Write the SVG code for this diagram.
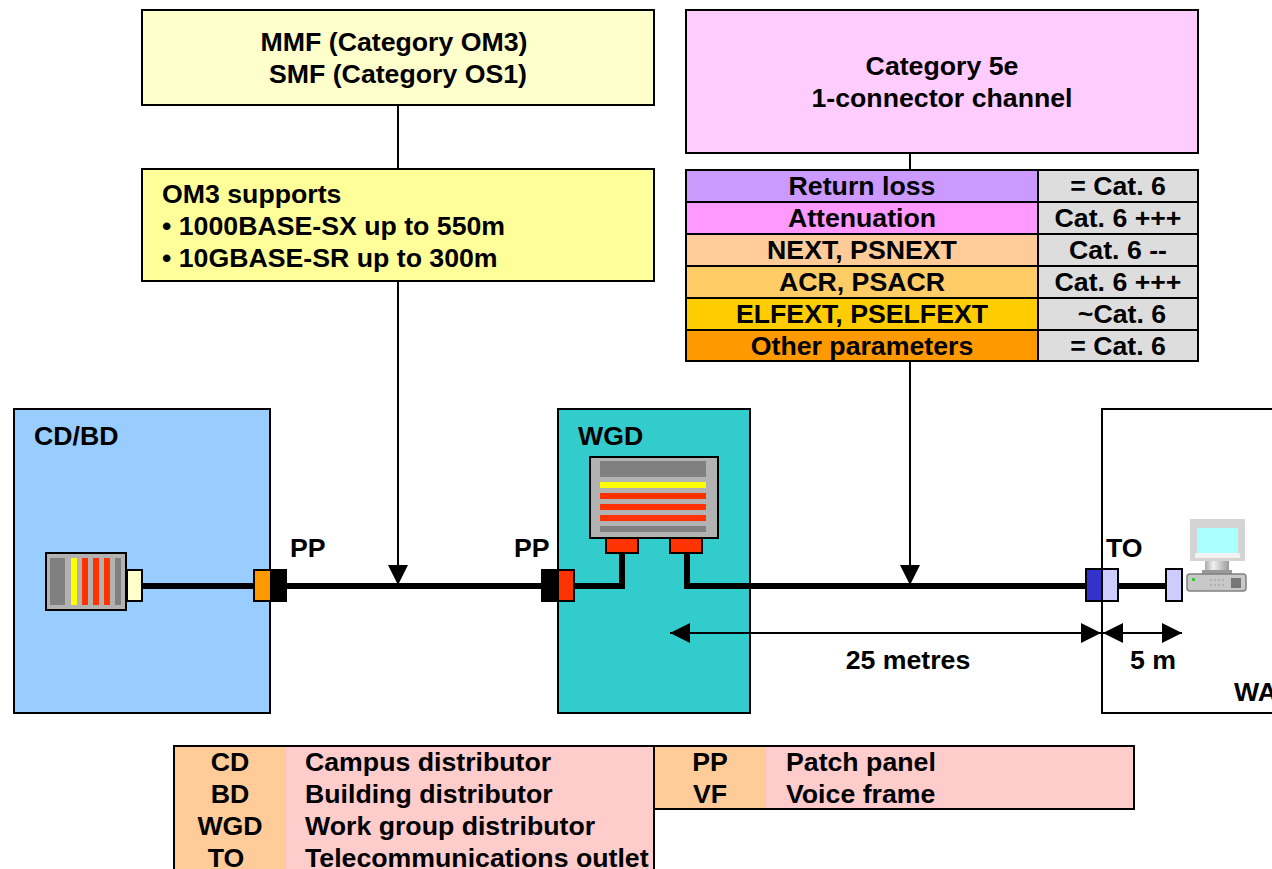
<svg xmlns="http://www.w3.org/2000/svg" width="1272" height="869" viewBox="0 0 1272 869">
<style>
text{font-family:"Liberation Sans",Arial,sans-serif;font-weight:700;font-size:26.7px;fill:#000}
.m{text-anchor:middle}
.b{stroke:#000;stroke-width:2}
.t{stroke:#000;stroke-width:2;fill:none}
.w{stroke:#000;stroke-width:6;fill:none}
.l{stroke:#000;stroke-width:2;fill:none}
</style>
<defs>
<marker id="a" markerUnits="userSpaceOnUse" markerWidth="22" markerHeight="22" refX="20" refY="10" orient="auto-start-reverse"><path d="M0 0L20 10L0 20Z" fill="#000"/></marker>
<linearGradient id="st"><stop offset="0" stop-color="#aaa"/><stop offset=".35" stop-color="#f0f0f0"/><stop offset="1" stop-color="#999"/></linearGradient>
</defs>
<rect width="1272" height="869" fill="#fff"/>
<g id="cdbd"><rect class="b" x="14" y="409" width="256" height="304" fill="#99ccff"/><text x="34" y="445">CD/BD</text></g>
<g id="wgd"><rect class="b" x="558" y="409" width="192" height="304" fill="#33cccc"/><text x="578" y="445">WGD</text></g>
<g id="wa"><rect class="b" x="1102" y="409" width="180" height="304" fill="#fff"/><text x="1234" y="701">WA</text></g>
<g id="connectors">
<path class="l" d="M398 105V585" marker-end="url(#a)"/>
<path class="l" d="M910 153V585" marker-end="url(#a)"/>
<path class="w" d="M143 586H256M286 586H544M574 586H622V552M687 552V586H1088M1118 586H1168"/>
<path class="l" d="M670 633H1101" marker-start="url(#a)" marker-end="url(#a)"/>
<path class="l" d="M1103 633H1182" marker-start="url(#a)" marker-end="url(#a)"/>
</g>
<g id="mmf"><rect class="b" x="142" y="10" width="512" height="95" fill="#ffffcc"/><text class="m" x="394" y="51">MMF (Category OM3)</text><text class="m" x="398" y="83">SMF (Category OS1)</text></g>
<g id="om3"><rect class="b" x="142" y="169" width="512" height="112" fill="#ffff99"/><text x="162" y="203">OM3 supports</text><text x="162" y="235">• 1000BASE-SX up to 550m</text><text x="162" y="267">• 10GBASE-SR up to 300m</text></g>
<g id="cat5e"><rect class="b" x="686" y="10" width="512" height="143" fill="#ffccff"/><text class="m" x="942" y="75">Category 5e</text><text class="m" x="942" y="107">1-connector channel</text></g>
<g id="params">
<rect class="b" x="686" y="170" width="352" height="32" fill="#cc99ff"/><rect class="b" x="1038" y="170" width="160" height="32" fill="#dddddd"/>
<rect class="b" x="686" y="202" width="352" height="32" fill="#ff99ff"/><rect class="b" x="1038" y="202" width="160" height="32" fill="#dddddd"/>
<rect class="b" x="686" y="234" width="352" height="32" fill="#ffcc99"/><rect class="b" x="1038" y="234" width="160" height="32" fill="#dddddd"/>
<rect class="b" x="686" y="266" width="352" height="32" fill="#ffcc66"/><rect class="b" x="1038" y="266" width="160" height="32" fill="#dddddd"/>
<rect class="b" x="686" y="298" width="352" height="32" fill="#ffcc00"/><rect class="b" x="1038" y="298" width="160" height="32" fill="#dddddd"/>
<rect class="b" x="686" y="330" width="352" height="31" fill="#ff9900"/><rect class="b" x="1038" y="330" width="160" height="31" fill="#dddddd"/>
<text class="m" x="862" y="195">Return loss</text><text class="m" x="1118" y="195">= Cat. 6</text>
<text class="m" x="862" y="227">Attenuation</text><text class="m" x="1118" y="227">Cat. 6 +++</text>
<text class="m" x="862" y="259">NEXT, PSNEXT</text><text class="m" x="1118" y="259">Cat. 6 --</text>
<text class="m" x="862" y="291">ACR, PSACR</text><text class="m" x="1118" y="291">Cat. 6 +++</text>
<text class="m" x="862" y="323">ELFEXT, PSELFEXT</text><text class="m" x="1122" y="323">~Cat. 6</text>
<text class="m" x="862" y="355">Other parameters</text><text class="m" x="1118" y="355">= Cat. 6</text>
</g>
<g id="switch-left">
<rect x="46" y="553" width="80" height="57" fill="#b2b2b2" class="b"/>
<rect x="50" y="558" width="15" height="47" fill="#808080"/><rect x="71" y="558" width="6" height="47" fill="#ffff00"/><rect x="82" y="558" width="6" height="47" fill="#ff3300"/><rect x="93" y="558" width="6" height="47" fill="#ff3300"/><rect x="104" y="558" width="6" height="47" fill="#ff3300"/><rect x="115" y="558" width="6" height="47" fill="#808080"/>
<rect x="127" y="570" width="15" height="31" fill="#ffffcc" class="b"/>
</g>
<g id="pp-left"><rect x="254" y="570" width="17" height="31" fill="#ff9900" class="b"/><rect x="270" y="569" width="17" height="33" fill="#000"/><text x="290" y="557">PP</text></g>
<g id="pp-wgd"><rect x="541" y="569" width="17" height="33" fill="#000"/><rect x="558" y="570" width="16" height="31" fill="#ff3300" class="b"/><text x="514" y="557">PP</text></g>
<g id="switch-wgd">
<rect x="590" y="457" width="128" height="81" fill="#b2b2b2" class="b"/>
<rect x="600" y="461" width="106" height="16" fill="#808080"/><rect x="600" y="482" width="106" height="6" fill="#ffff00"/><rect x="600" y="493" width="106" height="6" fill="#ff3300"/><rect x="600" y="504" width="106" height="6" fill="#ff3300"/><rect x="600" y="515" width="106" height="6" fill="#ff3300"/><rect x="600" y="526" width="106" height="6" fill="#808080"/>
<rect x="606" y="538" width="32" height="15" fill="#ff3300" class="b"/><rect x="670" y="538" width="32" height="15" fill="#ff3300" class="b"/>
</g>
<g id="to"><rect x="1086" y="569" width="16" height="32" fill="#3333cc" class="b"/><rect x="1102" y="569" width="16" height="32" fill="#ccccff" class="b"/><text x="1106" y="557">TO</text></g>
<g id="terminal">
<rect x="1166" y="569" width="16" height="32" fill="#ccccff" class="b"/>
<rect x="1190" y="519" width="55" height="42" fill="#d4d4d4"/><rect x="1195" y="553" width="45" height="5" fill="#f2f2f2"/><rect x="1197" y="528" width="41" height="25" fill="#aaffff"/>
<rect x="1205" y="561" width="24" height="9" fill="url(#st)"/><rect x="1202" y="570" width="30" height="4" fill="#999"/>
<rect x="1187" y="574" width="59" height="17" rx="3" fill="#c8c8c8" stroke="#808080" stroke-width="1.5"/><rect x="1192" y="578" width="3" height="3" fill="#33cc33"/><path d="M1210 580H1226M1210 585H1226" stroke="#999" stroke-dasharray="2 2"/><rect x="1231" y="578" width="10" height="10" fill="#777"/>
</g>
<g id="dimensions"><text class="m" x="908" y="669">25 metres</text><text class="m" x="1153" y="669">5 m</text></g>
<g id="legend">
<rect x="174" y="746" width="112" height="130" fill="#ffcc99"/><rect x="286" y="746" width="368" height="130" fill="#ffcccc"/>
<path class="t" d="M174 869V746H654V869"/>
<rect x="655" y="746" width="111" height="63" fill="#ffcc99"/><rect x="766" y="746" width="368" height="63" fill="#ffcccc"/>
<path class="t" d="M654 746H1134V809H654"/>
<text class="m" x="230" y="771">CD</text><text x="305" y="771">Campus distributor</text>
<text class="m" x="230" y="803">BD</text><text x="305" y="803">Building distributor</text>
<text class="m" x="230" y="835">WGD</text><text x="305" y="835">Work group distributor</text>
<text class="m" x="226" y="867">TO</text><text x="305" y="867">Telecommunications outlet</text>
<text class="m" x="710" y="771">PP</text><text x="786" y="771">Patch panel</text>
<text class="m" x="710" y="803">VF</text><text x="786" y="803">Voice frame</text>
</g>
</svg>
